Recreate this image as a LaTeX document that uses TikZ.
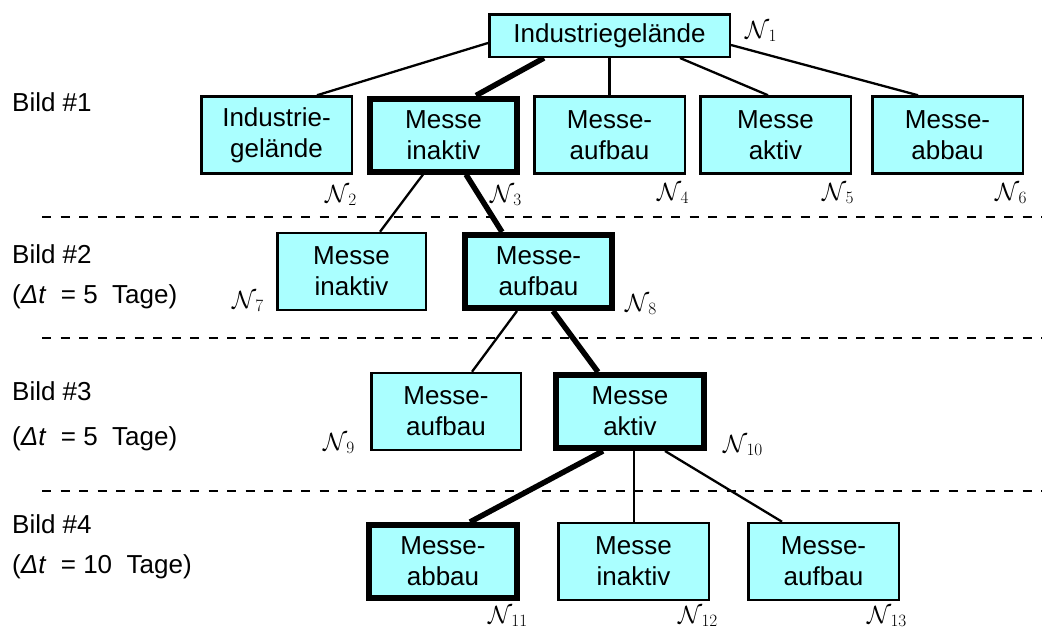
\documentclass[tikz,border=0pt]{standalone}
\usepackage{fontspec}
\setmainfont{Liberation Sans}
\usetikzlibrary{backgrounds}
\definecolor{boxfill}{RGB}{170,255,255}
\newcommand\boxfont{\fontsize{26}{31}\selectfont}
\newcommand\tagfont{\fontsize{25}{30}\selectfont}
\tikzset{
  box/.style={draw, fill=boxfill, line width=2.5pt, rectangle, inner sep=0pt,
              align=center, font=\boxfont, minimum height=77pt},
  boldbox/.style={box, line width=6pt, minimum height=73pt},
  link/.style={line width=2.3pt},
  boldlink/.style={line width=5.5pt},
  sep/.style={line width=2pt, dash pattern=on 9pt off 9.5pt},
  tag/.style={inner sep=0pt, anchor=base west, font=\tagfont},
  side/.style={inner sep=0pt, anchor=base west, font=\boxfont},
}
\begin{document}
\begin{tikzpicture}[x=1pt,y=-1pt]
\useasboundingbox (0,0) rectangle (1042,637);

% state boxes
\node[box, minimum width=240.5, minimum height=42.5] (n1) at (609.5,35.5) {Industriegelände};

\node[box, minimum width=150.5] (n2) at (276.5,135) {Industrie-\\gelände};
\node[boldbox, minimum width=147] (n3) at (443.5,135) {Messe\\inaktiv};
\node[box, minimum width=150.5] (n4) at (609.5,135) {Messe-\\aufbau};
\node[box, minimum width=150.5] (n5) at (775.5,135) {Messe\\aktiv};
\node[box, minimum width=150.5] (n6) at (947.5,135) {Messe-\\abbau};

\node[box, minimum width=148.5] (n7) at (351.5,271.5) {Messe\\inaktiv};
\node[boldbox, minimum width=147] (n8) at (538.5,271.5) {Messe-\\aufbau};

\node[box, minimum width=149.5] (n9) at (446,411.5) {Messe-\\aufbau};
\node[boldbox, minimum width=148] (n10) at (630,411.5) {Messe\\aktiv};

\node[boldbox, minimum width=148] (n11) at (443,561.5) {Messe-\\abbau};
\node[box, minimum width=150.5] (n12) at (633.5,561.5) {Messe\\inaktiv};
\node[box, minimum width=150.5] (n13) at (823.5,561.5) {Messe-\\aufbau};

% node tags
\node[tag] (t1) at (745,38) {$\mathcal{N}_{\,1}$};
\node[tag] (t2) at (325,202) {$\mathcal{N}_{\,2}$};
\node[tag] (t3) at (490,202) {$\mathcal{N}_{\,3}$};
\node[tag] (t4) at (657,200) {$\mathcal{N}_{\,4}$};
\node[tag] (t5) at (822,200) {$\mathcal{N}_{\,5}$};
\node[tag] (t6) at (995,200) {$\mathcal{N}_{\,6}$};
\node[tag] (t7) at (232,308) {$\mathcal{N}_{\,7}$};
\node[tag] (t8) at (625,311) {$\mathcal{N}_{\,8}$};
\node[tag] (t9) at (323,450) {$\mathcal{N}_{\,9}$};
\node[tag] (t10) at (723,452) {$\mathcal{N}_{\,10}$};
\node[tag] (t11) at (488,623) {$\mathcal{N}_{\,11}$};
\node[tag] (t12) at (678,623) {$\mathcal{N}_{\,12}$};
\node[tag] (t13) at (867,623) {$\mathcal{N}_{\,13}$};

% step labels
\node[side] (b1) at (12,111) {Bild \#1};
\node[side] (b2) at (12,263) {Bild \#2};
\node[side] (d2) at (12,303) {(\textit{Δt}\ \ = 5\ \ Tage)};
\node[side] (b3) at (12,400) {Bild \#3};
\node[side] (d3) at (12,445) {(\textit{Δt}\ \ = 5\ \ Tage)};
\node[side] (b4) at (12,533) {Bild \#4};
\node[side] (d4) at (12,573) {(\textit{Δt}\ \ = 10\ \ Tage)};

% separators between the steps
\coordinate (s1a) at (42,217);  \coordinate (s1b) at (1042,217);
\coordinate (s2a) at (42,338);  \coordinate (s2b) at (1042,338);
\coordinate (s3a) at (42,491);  \coordinate (s3b) at (1042,491);

\begin{scope}[on background layer]
  \fill[white] (0,0) rectangle (1042,637);
  \draw[sep] (s1a) -- (s1b);
  \draw[sep] (s2a) -- (s2b);
  \draw[sep] (s3a) -- (s3b);

  \draw[link] ([yshift=-7.5pt]n1.west) -- ([xshift=40.5pt]n2.north);
  \draw[boldlink] ([xshift=-65.5pt]n1.south) -- ([xshift=32.5pt]n3.north);
  \draw[link] (n1.south) -- (n4.north);
  \draw[link] ([xshift=70.5pt]n1.south) -- ([xshift=-7.5pt]n5.north);
  \draw[link] ([yshift=-9.5pt]n1.east) -- ([xshift=-29.5pt]n6.north);

  \draw[link] ([xshift=-20.5pt]n3.south) -- ([xshift=28.5pt]n7.north);
  \draw[boldlink] ([xshift=22.5pt]n3.south) -- ([xshift=-36.5pt]n8.north);

  \draw[link] ([xshift=-21.5pt]n8.south) -- ([xshift=26pt]n9.north);
  \draw[boldlink] ([xshift=14.5pt]n8.south) -- ([xshift=-32pt]n10.north);

  \draw[boldlink] ([xshift=-27pt]n10.south) -- ([xshift=27pt]n11.north);
  \draw[link] ([xshift=4pt]n10.south) -- ([xshift=0.5pt]n12.north);
  \draw[link] ([xshift=35pt]n10.south) -- ([xshift=-41.5pt]n13.north);
\end{scope}
\end{tikzpicture}
\end{document}
